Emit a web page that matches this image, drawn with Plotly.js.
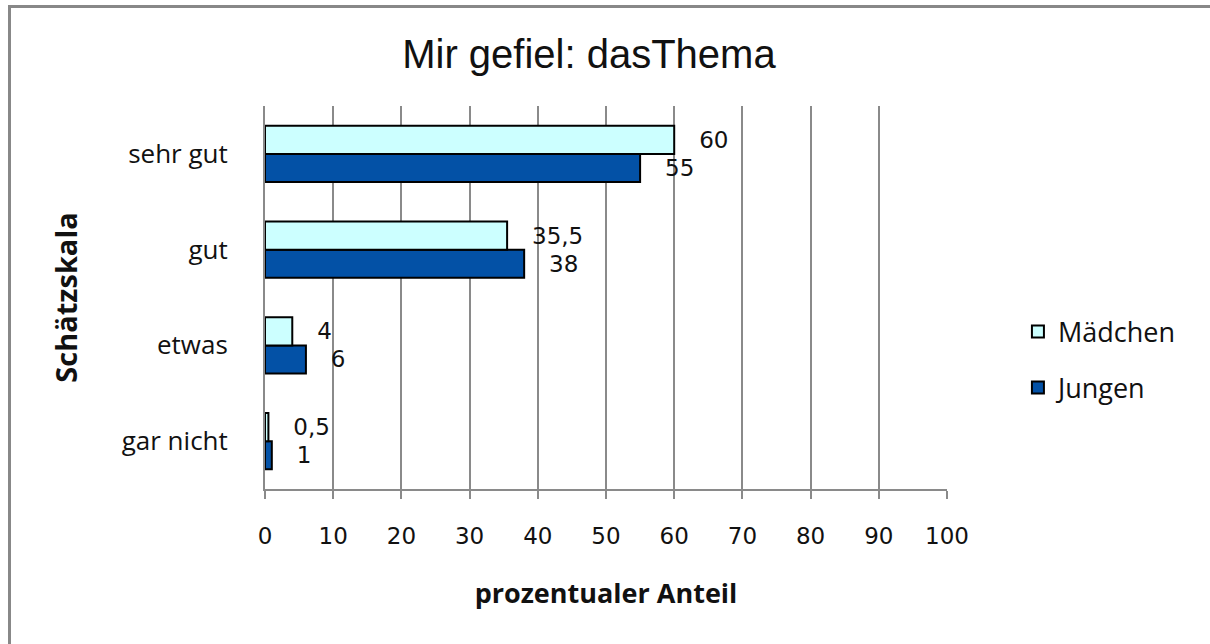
<!DOCTYPE html>
<html>
<head>
<meta charset="utf-8">
<script src="https://cdn.plot.ly/plotly-3.0.1.min.js"></script>
<style>
  html, body { margin: 0; padding: 0; background: #fff; overflow: hidden; }
  #chart { width: 1210px; height: 644px; }
</style>
</head>
<body>
<div id="chart"></div>
<script>
const categories = ["gar nicht", "etwas", "gut", "sehr gut"];
const maedchen = [0.5, 4, 35.5, 60];
const jungen = [1, 6, 38, 55];
const xTicks = [0, 10, 20, 30, 40, 50, 60, 70, 80, 90, 100];

const fmt = v => String(v).replace(".", ",");
const pad = "\u00a0\u00a0\u00a0";

const labelFont = { family: "DejaVu Sans, Verdana, sans-serif", size: 23, color: "#111" };

const traces = [
  {
    type: "bar", orientation: "h", name: "Jungen",
    y: categories, x: jungen,
    text: jungen.map(fmt), texttemplate: pad + "%{text}",
    textposition: "outside", cliponaxis: false, constraintext: "none",
    textfont: labelFont,
    marker: { color: "#0351a6", line: { color: "#000", width: 2 } },
    legendgroup: "j", legendrank: 2, hoverinfo: "x+name"
  },
  {
    type: "bar", orientation: "h", name: "Mädchen",
    y: categories, x: maedchen,
    text: maedchen.map(fmt), texttemplate: pad + "%{text}",
    textposition: "outside", cliponaxis: false, constraintext: "none",
    textfont: labelFont,
    marker: { color: "#ccffff", line: { color: "#000", width: 2 } },
    legendgroup: "m", legendrank: 1, hoverinfo: "x+name"
  }
];

// plot area: l=265, r=263, t=106, b=155 -> 682 x 383 px
const px = v => (v - 265) / 682;
const py = v => (489 - v) / 383;

const layout = {
  width: 1210, height: 644,
  margin: { l: 265, r: 263, t: 106, b: 155, pad: 0 },
  paper_bgcolor: "#fff", plot_bgcolor: "#fff",
  barmode: "group", bargap: 0.415, bargroupgap: 0,
  separators: ",.",
  title: {
    text: "Mir gefiel: dasThema",
    font: { family: "Liberation Sans, Arial, sans-serif", size: 40, color: "#111" },
    x: 0.475, xref: "paper", xanchor: "center",
    y: 1 - 54 / 644, yref: "container", yanchor: "middle"
  },
  xaxis: {
    range: [0, 100], tickvals: xTicks, ticktext: xTicks.map(String),
    showgrid: true, gridcolor: "#8a8a8a", gridwidth: 2,
    zeroline: false,
    showline: true, linecolor: "#8a8a8a", linewidth: 2,
    ticks: "outside", ticklen: 8, tickwidth: 2, tickcolor: "#8a8a8a",
    ticklabelstandoff: 17,
    tickfont: { family: "DejaVu Sans, Verdana, sans-serif", size: 23, color: "#111" },
    title: {
      text: "prozentualer Anteil", standoff: 37,
      font: { family: "Open Sans, sans-serif", size: 27, color: "#111", weight: "bold" }
    },
    fixedrange: true
  },
  yaxis: {
    type: "category", categoryorder: "array", categoryarray: categories,
    showgrid: false, zeroline: false,
    showline: true, linecolor: "#8a8a8a", linewidth: 2,
    ticks: "", ticklabelstandoff: 30,
    tickfont: { family: "Open Sans, sans-serif", size: 26, color: "#111" },
    title: {
      text: "Schätzskala", standoff: 36,
      font: { family: "Open Sans, sans-serif", size: 29, color: "#111", weight: "bold" }
    },
    fixedrange: true
  },
  shapes: [
    { type: "line", xref: "paper", yref: "paper", x0: px(9.5), x1: px(9.5), y0: py(5), y1: py(660),
      line: { color: "#888", width: 3 }, layer: "above" },
    { type: "line", xref: "paper", yref: "paper", x0: px(8), x1: px(1220), y0: py(6.5), y1: py(6.5),
      line: { color: "#888", width: 3 }, layer: "above" }
  ],
  showlegend: true,
  legend: {
    x: 1.104, xanchor: "left", y: 0.337, yanchor: "middle",
    traceorder: "grouped", tracegroupgap: 18,
    font: { family: "Open Sans, sans-serif", size: 27, color: "#111" },
    bgcolor: "rgba(0,0,0,0)", itemwidth: 30
  }
};

Plotly.newPlot("chart", traces, layout, { displayModeBar: false, staticPlot: true });
</script>
</body>
</html>
